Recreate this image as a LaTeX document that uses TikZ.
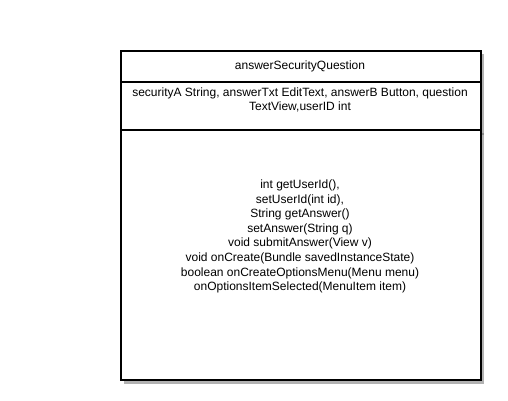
\documentclass[tikz,border=0pt]{standalone}
\usepackage{fontspec}
\setmainfont{Liberation Sans}
\begin{document}
\begin{tikzpicture}[x=1pt,y=-1pt,
  txt/.style={font=\fontsize{12}{14.6}\selectfont, align=center, inner sep=0pt},
  border/.style={draw=black, line width=2pt},
  shade/.style={fill=black!30}]
\useasboundingbox (0,0) rectangle (508,400);
% shadow
\fill[shade] (124,54) rectangle (484,383.5);
\draw[black!30, line width=1.5pt] (480,86) -- (484,86);
\draw[black!45, line width=1.5pt] (480,134) -- (484,134);
% class box
\node[border, fill=white, minimum width=360pt, minimum height=329pt, anchor=north west, inner sep=0pt] (cls) at (120,50) {};
\coordinate (d1) at (0,82);
\coordinate (d2) at (0,130);
\draw[border] (cls.west |- d1) -- (cls.east |- d1);
\draw[border] (cls.west |- d2) -- (cls.east |- d2);
% texts
\node[txt] (title) at (300,66) {answerSecurityQuestion};
\node[txt] (attrs) at (300,100) {securityA String, answerTxt EditText, answerB Button, question\\TextView,userID int};
\node[txt] (meths) at (300,236.5) {int getUserId(),\\setUserId(int id),\\String getAnswer()\\setAnswer(String q)\\void submitAnswer(View v)\\void onCreate(Bundle savedInstanceState)\\boolean onCreateOptionsMenu(Menu menu)\\onOptionsItemSelected(MenuItem item)};
\end{tikzpicture}
\end{document}
